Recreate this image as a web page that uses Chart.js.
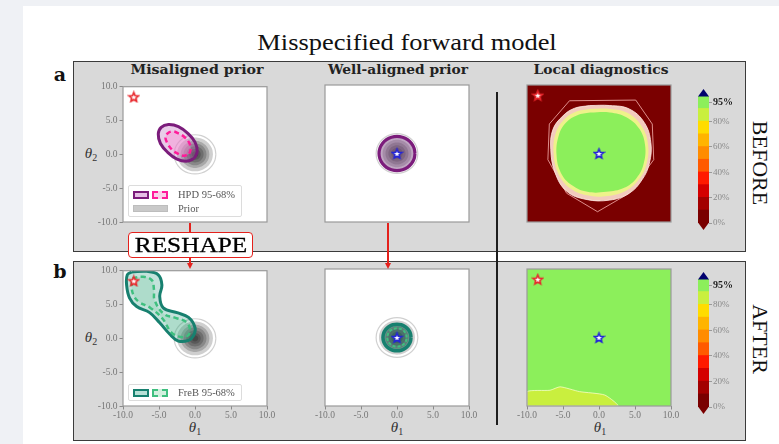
<!DOCTYPE html>
<html>
<head>
<meta charset="utf-8">
<title>Misspecified forward model</title>
<script src="https://cdn.jsdelivr.net/npm/chart.js@4.4.1/dist/chart.umd.min.js"></script>
<style>
  html, body { margin: 0; padding: 0; }
  body { width: 779px; height: 444px; position: relative; overflow: hidden; background: #eff1f5; font-family: 'Liberation Serif', serif; }
  #sheet { position: absolute; left: 23px; top: 6px; width: 756px; height: 438px; background: #fff; }
  .panel { position: absolute; box-sizing: border-box; background: #d9d9d9; border: 1.5px solid #3b3b3b; }
  .txt { position: absolute; white-space: nowrap; transform: translate(-50%, -50%); line-height: 1; }
  .title { font-size: 23px; color: #111; }
  .coltitle { font-family: 'DejaVu Serif', serif; font-weight: bold; font-size: 12.5px; color: #222; }
  .tag { font-family: 'DejaVu Serif', serif; font-weight: bold; font-size: 19px; color: #111; }
  .side { font-size: 22px; color: #111; }
  .theta { font-style: italic; font-size: 15px; color: #333; }
  .theta sub { font-size: 10px; font-style: normal; vertical-align: -3px; }
  canvas { position: absolute; }
  .legend { position: absolute; box-sizing: border-box; background: rgba(255,255,255,0.85); border: 1px solid #dcdcdc; border-radius: 2px; }
  .sw { position: absolute; box-sizing: border-box; }
  .lt { position: absolute; font-size: 10.5px; color: #555; line-height: 1; white-space: nowrap; transform: translateY(-50%); }
  .wire { position: absolute; background: #e4211c; }
  .head { position: absolute; width: 0; height: 0; border-left: 3.5px solid transparent; border-right: 3.5px solid transparent; border-top: 6px solid #e4211c; }
  #reshape { position: absolute; left: 128px; top: 232px; width: 125px; height: 26px; box-sizing: border-box; background: #fff; border: 1.5px solid #e4211c; border-radius: 4px; }
</style>
</head>
<body>
<div id="sheet"></div>
<div class="panel" style="left:73px;top:61px;width:673px;height:191px"></div>
<div class="panel" style="left:73px;top:261px;width:673px;height:180px"></div>

<div class="txt title" data-w="300" style="left:407px;top:42px">Misspecified forward model</div>
<div class="txt tag" style="left:60px;top:74px">a</div>
<div class="txt tag" style="left:60px;top:271px">b</div>
<div class="txt coltitle" data-w="133" style="left:197px;top:70px">Misaligned prior</div>
<div class="txt coltitle" data-w="140" style="left:398px;top:70px">Well-aligned prior</div>
<div class="txt coltitle" data-w="135" style="left:601px;top:70px">Local diagnostics</div>
<div class="txt side" style="left:760px;top:163px;transform:translate(-50%,-50%) rotate(90deg)">BEFORE</div>
<div class="txt side" style="left:760px;top:339px;transform:translate(-50%,-50%) rotate(90deg)">AFTER</div>

<div class="txt theta" style="left:91px;top:154px">θ<sub>2</sub></div>
<div class="txt theta" style="left:91px;top:338px">θ<sub>2</sub></div>
<div class="txt theta" style="left:195px;top:428px">θ<sub>1</sub></div>
<div class="txt theta" style="left:397px;top:428px">θ<sub>1</sub></div>
<div class="txt theta" style="left:600px;top:428px">θ<sub>1</sub></div>

<canvas id="cA1"></canvas>
<canvas id="cA2"></canvas>
<canvas id="cA3"></canvas>
<canvas id="cbA"></canvas>
<canvas id="cB1"></canvas>
<canvas id="cB2"></canvas>
<canvas id="cB3"></canvas>
<canvas id="cbB"></canvas>

<div style="position:absolute;left:496px;top:92px;width:1.6px;height:333px;background:#1e1e1e"></div>

<div class="wire" style="left:189px;top:223px;width:2px;height:10px"></div>
<div class="wire" style="left:189px;top:257px;width:2px;height:7px"></div>
<div class="head" style="left:186.5px;top:263px"></div>
<div class="wire" style="left:387px;top:223px;width:2px;height:41px"></div>
<div class="head" style="left:384.5px;top:263px"></div>
<div id="reshape"></div>
<div class="txt" data-w="112" style="left:191px;top:245px;font-size:21px;color:#000;-webkit-text-stroke:0.3px #000">RESHAPE</div>

<div class="legend" style="left:128px;top:185px;width:114px;height:32px">
  <span class="sw" style="left:4px;top:5px;width:16px;height:8px;border:2.5px solid #7b1c7b;background:#e6bfe6"></span>
  <span class="sw" style="left:23px;top:5px;width:16px;height:8px;border:2.5px dashed #ff1c9a;background:#fbd0ea"></span>
  <span class="lt" style="left:49px;top:9px">HPD 95-68%</span>
  <span class="sw" style="left:4px;top:19px;width:35px;height:7px;background:#c9c9c9;border:1px solid #bdbdbd"></span>
  <span class="lt" style="left:49px;top:23px">Prior</span>
</div>
<div class="legend" style="left:128px;top:384px;width:114px;height:17px">
  <span class="sw" style="left:4px;top:4px;width:16px;height:8px;border:2.5px solid #17806f;background:#b8e0d6"></span>
  <span class="sw" style="left:23px;top:4px;width:16px;height:8px;border:2.5px dashed #3fbf7f;background:#d2f0de"></span>
  <span class="lt" style="left:49px;top:8px">FreB 95-68%</span>
</div>

<script>
// ---------------- data ----------------
const tickValues = [-10, -5, 0, 5, 10];
const tickLabels = ['-10.0', '-5.0', '0.0', '5.0', '10.0'];

const trueTheta = [{ x: 0, y: 0 }];        // blue star
const offsetTheta = [{ x: -8.5, y: 8.5 }]; // red star

// prior density: faint outer contour and shaded level radii
const priorOutlineRadius = 2.9;
const priorShadeRadii = [2.5, 2.0, 1.6, 1.2, 0.8, 0.45];

// HPD regions, misaligned prior (before)
const hpd95Misaligned = [[-0.1,-0.6],[0.3,0.4],[0.0,1.8],[-1.0,3.1],[-2.3,4.1],[-3.7,4.4],[-4.7,4.0],[-5.1,3.0],[-4.8,1.6],[-3.8,0.3],[-2.5,-0.7],[-1.1,-1.0]];
const hpd68Misaligned = [[-0.8,0.1],[-0.6,0.8],[-0.8,1.7],[-1.4,2.5],[-2.3,3.1],[-3.1,3.4],[-3.8,3.1],[-4.1,2.4],[-3.8,1.6],[-3.2,0.7],[-2.4,0.1],[-1.5,-0.2]];
const hpd95WellRadius = 2.5;

// FreB confidence sets, misaligned prior (after)
const freb95Misaligned = [[-8.8,9.8],[-6.7,9.9],[-5.1,9.4],[-4.6,7.9],[-4.9,6.2],[-4.4,4.5],[-2.5,3.8],[-0.9,3.1],[0.0,1.6],[-0.2,0.4],[-0.9,-0.3],[-2.3,-0.4],[-3.5,0.6],[-4.9,2.3],[-6.3,3.8],[-8.1,4.7],[-9.1,6.0],[-9.5,7.9],[-9.4,9.4]];
const freb68Misaligned = [[-8.7,8.9],[-7.2,9.1],[-6.0,8.6],[-5.7,7.2],[-5.6,5.6],[-4.3,3.6],[-2.6,3.0],[-1.2,2.4],[-0.7,1.3],[-1.0,0.4],[-2.0,0.2],[-3.3,0.9],[-4.5,2.9],[-6.2,4.5],[-7.8,5.4],[-8.5,6.3],[-8.8,7.5]];
const freb95WellRadius = 1.95;
const freb68WellRadius = 1.35;

// coverage colour scale (%)
const coverageLevels = [0, 10, 20, 30, 40, 50, 60, 70, 80, 90, 100];
const coverageColors = ['#7a0000', '#a30000', '#d40000', '#ff1a00', '#ff5a00', '#ff8c00', '#ffb400', '#ffdc00', '#c9ef3e', '#8cef5b'];
const coverageTicks = [0, 20, 40, 60, 80, 95];

// local coverage regions (before): domain level, outer contour, fringe, inner band, core
const domainCorners = [[-10,-10],[10,-10],[10,10],[-10,10]];
const diagBeforeDomainLevel = 5;
const diagBeforeBoundary = [[-4.1,7.7],[5.1,7.8],[7.4,4.3],[7.6,-0.9],[4.2,-5.8],[-0.2,-8.5],[-4.5,-5.8],[-7.1,-0.9],[-6.9,4.3]];
const diagBeforeFringe = [[-1.3,7.0],[1.5,7.0],[4.2,6.5],[6.3,4.5],[7.2,1.6],[7.0,-1.4],[6.0,-3.8],[4.2,-5.8],[1.5,-6.8],[-1.8,-6.7],[-4.5,-5.5],[-6.1,-2.8],[-6.7,0.6],[-6.4,3.5],[-5.0,5.5],[-3.4,6.6]];
const diagBeforeBand = [[-1.2,6.5],[1.5,6.5],[4.0,5.9],[5.9,4.0],[6.8,1.4],[6.6,-1.5],[5.6,-3.7],[3.8,-5.4],[1.2,-6.2],[-1.7,-6.1],[-4.1,-5.0],[-5.7,-2.8],[-6.3,0.2],[-6.0,3.0],[-4.8,5.0],[-3.2,6.1]];
const diagBeforeCore = [[-1.2,6.0],[1.5,6.0],[3.8,5.3],[5.6,3.6],[6.4,1.2],[6.2,-1.5],[5.2,-3.6],[3.5,-5.0],[1.0,-5.6],[-1.6,-5.6],[-3.8,-4.6],[-5.3,-2.8],[-5.9,-0.2],[-5.6,2.6],[-4.6,4.5],[-3.0,5.6]];
const diagBeforeCoreLevel = 95;

// local coverage regions (after)
const diagAfterDomainLevel = 95;
const diagAfterLowRegion = [[-10,-10],[-10,-7.9],[-6.8,-7.7],[-5.4,-7.2],[-2.7,-7.9],[0.8,-8.4],[2.6,-10]];
const diagAfterLowLevel = 85;

// ---------------- helpers ----------------
const FONT = "'Liberation Serif', 'DejaVu Serif', serif";
const PW = 144, PH = 137, YW = 40, XH = 26, PT = 6, PR = 12;

function levelColor(v) {
  for (let i = 0; i < coverageColors.length; i++) {
    if (v >= coverageLevels[i] && v < coverageLevels[i + 1]) return coverageColors[i];
  }
  return coverageColors[coverageColors.length - 1];
}
function ring(r, n = 20) {
  const pts = [];
  for (let i = 0; i < n; i++) {
    const a = 2 * Math.PI * i / n;
    pts.push([r * Math.cos(a), r * Math.sin(a)]);
  }
  return pts;
}
function closed(pts) {
  return pts.concat([pts[0]]).map(([x, y]) => ({ x, y }));
}
function shape(pts, o) {
  return Object.assign({
    data: closed(pts), showLine: true, pointRadius: 0, pointHoverRadius: 0,
    tension: 0.4, borderWidth: 0, borderColor: 'rgba(0,0,0,0)', backgroundColor: 'rgba(0,0,0,0)', fill: false
  }, o);
}
function starIcon(stroke, fill) {
  const size = 13, lw = 1.6;
  const c = document.createElement('canvas');
  c.width = c.height = size;
  const g = c.getContext('2d');
  const R = size / 2 - lw, r = R * 0.45, m = size / 2;
  g.beginPath();
  for (let i = 0; i < 10; i++) {
    const a = -Math.PI / 2 + i * Math.PI / 5, rr = i % 2 ? r : R;
    g.lineTo(m + rr * Math.cos(a), m + 0.5 + rr * Math.sin(a));
  }
  g.closePath();
  g.fillStyle = fill; g.fill();
  g.lineWidth = lw; g.strokeStyle = stroke; g.lineJoin = 'miter'; g.stroke();
  return c;
}
const redStar = starIcon('#e8262b', '#ffffff');
const blueStar = starIcon('#2424d8', '#ffffff');
function stars(list) {
  return list.map(([pts, icon]) => ({ data: pts, showLine: false, pointStyle: icon, pointRadius: 6, pointHoverRadius: 6, borderWidth: 0 }));
}
function priorLayers(outline) {
  return [shape(ring(outline), { borderColor: 'rgba(205,205,205,0.95)', borderWidth: 1.2 })]
    .concat(priorShadeRadii.map(r => shape(ring(r), { fill: 'shape', backgroundColor: 'rgba(0,0,0,0.19)' })));
}
function layered(list) {
  return list.map((d, i) => Object.assign({ order: list.length - i }, d));
}

// plot background + frame + colourbar extensions
Chart.register({
  id: 'axesFrame',
  beforeDatasetsDraw(chart, _a, o) {
    if (!o.bg) return;
    const a = chart.chartArea, ctx = chart.ctx;
    ctx.save(); ctx.fillStyle = o.bg; ctx.fillRect(a.left, a.top, a.width, a.height); ctx.restore();
  },
  afterDatasetsDraw(chart, _a, o) {
    const a = chart.chartArea, ctx = chart.ctx;
    ctx.save();
    if (o.color) {
      ctx.strokeStyle = o.color; ctx.lineWidth = o.width || 1.2;
      ctx.strokeRect(a.left, a.top, a.width, a.height);
    }
    if (o.ends) {
      const cx = (a.left + a.right) / 2;
      ctx.fillStyle = o.over;
      ctx.beginPath(); ctx.moveTo(a.left, a.top + 0.5); ctx.lineTo(a.right, a.top + 0.5); ctx.lineTo(cx, a.top - o.tip); ctx.closePath(); ctx.fill();
      ctx.fillStyle = o.under;
      ctx.beginPath(); ctx.moveTo(a.left, a.bottom - 0.5); ctx.lineTo(a.right, a.bottom - 0.5); ctx.lineTo(cx, a.bottom + o.tip); ctx.closePath(); ctx.fill();
    }
    ctx.restore();
  }
});

function makeAxes(id, plotLeft, plotTop, datasets, showX, showY, frame, bg) {
  const cv = document.getElementById(id);
  cv.width = YW + PW + PR; cv.height = PT + PH + XH;
  cv.style.left = (plotLeft - YW) + 'px';
  cv.style.top = (plotTop - PT) + 'px';
  const axis = (show, isX) => ({
    type: 'linear', min: -10, max: 10,
    afterBuildTicks: s => { s.ticks = tickValues.map(v => ({ value: v })); },
    afterFit: s => { if (isX) s.height = XH; else s.width = YW; },
    ticks: {
      display: show, autoSkip: false, maxRotation: 0, padding: isX ? 0 : 2, color: '#777',
      font: { family: FONT, size: 9.5 },
      callback: v => tickLabels[tickValues.indexOf(v)]
    },
    grid: { drawOnChartArea: false, drawTicks: show, tickLength: 3.5, color: '#8a8a8a', lineWidth: 1 },
    border: { display: false }
  });
  const chart = new Chart(cv, {
    type: 'line',
    data: { datasets: layered(datasets) },
    options: {
      responsive: false, animation: false, devicePixelRatio: 1, events: [],
      layout: { autoPadding: false, padding: { left: 0, top: PT, right: PR, bottom: 0 } },
      plugins: {
        legend: { display: false }, tooltip: { enabled: false }, colors: { enabled: false },
        axesFrame: { bg: bg, color: frame, width: 1.2 }
      },
      scales: { x: axis(showX, true), y: axis(showY, false) }
    }
  });
  chart.update('none');
  return chart;
}

function makeColorbar(id, barLeft, barTop, barH) {
  const BW = 11, AX = 40, PAD = 9;
  const cv = document.getElementById(id);
  cv.width = BW + AX; cv.height = barH + 2 * PAD;
  cv.style.left = barLeft + 'px';
  cv.style.top = (barTop - PAD) + 'px';
  const datasets = coverageColors.map((c, i) => ({
    data: [[coverageLevels[i], coverageLevels[i + 1]]], backgroundColor: c, borderWidth: 0,
    barPercentage: 1, categoryPercentage: 1, grouped: false, inflateAmount: 0.6
  }));
  const chart = new Chart(cv, {
    type: 'bar',
    data: { labels: ['coverage'], datasets },
    options: {
      responsive: false, animation: false, devicePixelRatio: 1, events: [],
      layout: { autoPadding: false, padding: { left: 0, right: 0, top: PAD, bottom: PAD } },
      plugins: {
        legend: { display: false }, tooltip: { enabled: false }, colors: { enabled: false },
        axesFrame: { ends: true, over: '#00006e', under: coverageColors[0], tip: 7 }
      },
      scales: {
        x: { display: false },
        y: {
          position: 'right', min: 0, max: 100,
          afterBuildTicks: s => { s.ticks = coverageTicks.map(v => ({ value: v })); },
          afterFit: s => { s.width = AX; },
          ticks: {
            autoSkip: false, padding: 1,
            callback: v => v + '%',
            color: c => (c.tick && c.tick.value === 95) ? '#222' : '#8a8a8a',
            font: c => ({ family: FONT, size: (c.tick && c.tick.value === 95) ? 10 : 9, weight: (c.tick && c.tick.value === 95) ? 'bold' : 'normal' })
          },
          grid: { drawOnChartArea: false, tickLength: 3, color: '#999' },
          border: { display: false }
        }
      }
    }
  });
  chart.update('none');
  return chart;
}

// ---------------- row a: before ----------------
makeAxes('cA1', 123, 85, [
  ...priorLayers(priorOutlineRadius),
  shape(hpd95Misaligned, { fill: 'shape', backgroundColor: 'rgba(190,110,190,0.35)', borderColor: '#7b1c7b', borderWidth: 3 }),
  shape(hpd68Misaligned, { fill: 'shape', backgroundColor: 'rgba(255,140,210,0.4)', borderColor: '#ff1c9a', borderWidth: 2.5, borderDash: [5, 3.5] }),
  ...stars([[offsetTheta, redStar]])
], false, true, '#9a9a9a', '#ffffff');

makeAxes('cA2', 325, 85, [
  ...priorLayers(priorOutlineRadius),
  shape(ring(hpd95WellRadius), { fill: 'shape', backgroundColor: 'rgba(160,90,170,0.35)', borderColor: '#7b1c7b', borderWidth: 3.2 }),
  ...stars([[trueTheta, blueStar]])
], false, false, '#9a9a9a', '#ffffff');

makeAxes('cA3', 527, 85, [
  shape(domainCorners, { tension: 0, fill: 'shape', backgroundColor: levelColor(diagBeforeDomainLevel) }),
  shape(diagBeforeBoundary, { tension: 0, borderColor: 'rgba(255,190,185,0.75)', borderWidth: 1 }),
  shape(diagBeforeFringe, { fill: 'shape', backgroundColor: '#f3cbbd', borderColor: 'rgba(255,235,230,0.8)', borderWidth: 1 }),
  shape(diagBeforeBand, { fill: 'shape', backgroundColor: '#eef28a' }),
  shape(diagBeforeCore, { fill: 'shape', backgroundColor: levelColor(diagBeforeCoreLevel) }),
  ...stars([[offsetTheta, redStar], [trueTheta, blueStar]])
], false, false, '#9a9a9a', null);

makeColorbar('cbA', 698, 96, 127);

// ---------------- row b: after ----------------
makeAxes('cB1', 123, 269, [
  ...priorLayers(priorOutlineRadius),
  shape(freb95Misaligned, { fill: 'shape', backgroundColor: 'rgba(40,150,125,0.28)', borderColor: '#17806f', borderWidth: 3 }),
  shape(freb68Misaligned, { fill: 'shape', backgroundColor: 'rgba(90,200,140,0.2)', borderColor: '#3fbf7f', borderWidth: 2.5, borderDash: [5, 3.5] }),
  ...stars([[offsetTheta, redStar]])
], true, true, '#9a9a9a', '#ffffff');

makeAxes('cB2', 325, 269, [
  ...priorLayers(priorOutlineRadius),
  shape(ring(freb95WellRadius), { fill: 'shape', backgroundColor: 'rgba(20,120,100,0.4)', borderColor: '#17806f', borderWidth: 3.5 }),
  shape(ring(freb68WellRadius), { borderColor: '#3fbf7f', borderWidth: 2, borderDash: [3, 2] }),
  ...stars([[trueTheta, blueStar]])
], true, false, '#9a9a9a', '#ffffff');

makeAxes('cB3', 527, 269, [
  shape(domainCorners, { tension: 0, fill: 'shape', backgroundColor: levelColor(diagAfterDomainLevel) }),
  shape(diagAfterLowRegion, { tension: 0.2, fill: 'shape', backgroundColor: levelColor(diagAfterLowLevel), borderColor: 'rgba(255,255,215,0.7)', borderWidth: 1 }),
  ...stars([[offsetTheta, redStar], [trueTheta, blueStar]])
], true, false, '#9a9a9a', null);

makeColorbar('cbB', 698, 279, 128);

// stretch labels to their set widths
document.querySelectorAll('[data-w]').forEach(el => {
  const s = (+el.dataset.w) / el.offsetWidth;
  el.style.transform = 'translate(-50%, -50%) scaleX(' + s.toFixed(3) + ')';
});
</script>
</body>
</html>
